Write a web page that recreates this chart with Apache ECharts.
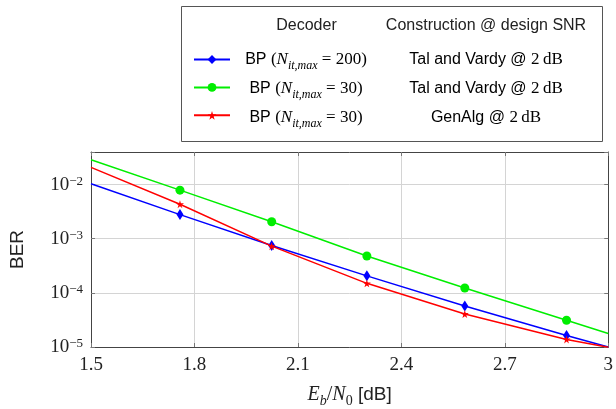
<!DOCTYPE html>
<html>
<head>
<meta charset="utf-8">
<script src="https://cdn.jsdelivr.net/npm/echarts@6/dist/echarts.min.js"></script>
<style>
  html, body { margin: 0; padding: 0; background: #fff; }
  #chart { width: 616px; height: 409px; }
</style>
</head>
<body>
<div id="chart"></div>
<script>
// Eb/N0 in dB (end points carry no marker)
var snr = [1.5, 1.758, 2.024, 2.3, 2.584, 2.879, 3.0];
var berBP200 = [1.04e-2, 2.79e-3, 7.5e-4, 2.06e-4, 5.7e-5, 1.63e-5, 1.0e-5];
var berBP30 = [2.87e-2, 7.9e-3, 2.06e-3, 4.8e-4, 1.23e-4, 3.12e-5, 1.78e-5];
var berGenAlg = [2.08e-2, 4.34e-3, 7.3e-4, 1.5e-4, 4.07e-5, 1.38e-5, 9.9e-6];
var xTicks = [1.5, 1.8, 2.1, 2.4, 2.7, 3];
var seriesNames = ['BP200', 'BP30', 'GenAlg'];
var decoderRows = [
    '{sf|BP }{rm|(}{it|N}{sub|it,max}{rm| = 200)}',
    '{sf|BP }{rm|(}{it|N}{sub|it,max}{rm| = 30)}',
    '{sf|BP }{rm|(}{it|N}{sub|it,max}{rm| = 30)}'
];
var constructionRows = [
    '{sf|Tal and Vardy @ }{rm|2\u2009dB}',
    '{sf|Tal and Vardy @ }{rm|2\u2009dB}',
    '{sf|GenAlg @ }{rm|2\u2009dB}'
];

var SANS = 'Liberation Sans';
var SERIF = 'Liberation Serif';
var starPath = 'path://M50,0 L61,35 L98,35 L68,57 L79,91 L50,70 L21,91 L32,57 L2,35 L39,35 Z';

var richText = {
    sf: { fontFamily: SANS, fontSize: 16, color: '#222', lineHeight: 18, verticalAlign: 'middle' },
    rm: { fontFamily: SERIF, fontSize: 17, color: '#222', lineHeight: 18, verticalAlign: 'middle' },
    it: { fontFamily: SERIF, fontStyle: 'italic', fontSize: 17, color: '#222', lineHeight: 18, verticalAlign: 'middle' },
    sub: { fontFamily: SERIF, fontStyle: 'italic', fontSize: 12, color: '#222', lineHeight: 12, verticalAlign: 'bottom', padding: [0, 0, -3, 0] }
};
var richName = {
    sf: { fontFamily: SANS, fontSize: 19, color: '#222', lineHeight: 20, verticalAlign: 'middle' },
    rm: { fontFamily: SERIF, fontSize: 20, color: '#222', lineHeight: 20, verticalAlign: 'middle' },
    it: { fontFamily: SERIF, fontStyle: 'italic', fontSize: 20, color: '#222', lineHeight: 20, verticalAlign: 'middle' },
    sub: { fontFamily: SERIF, fontStyle: 'italic', fontSize: 14, color: '#222', lineHeight: 14, verticalAlign: 'bottom', padding: [0, 0, -3, 0] },
    subr: { fontFamily: SERIF, fontSize: 14, color: '#222', lineHeight: 14, verticalAlign: 'bottom', padding: [0, 0, -3, 0] }
};

function makeData(ys) {
    var out = [];
    for (var i = 0; i < snr.length; i++) {
        if (i == 0 || i == snr.length - 1) {
            out.push({ value: [snr[i], ys[i]], symbol: 'none' });
        } else {
            out.push([snr[i], ys[i]]);
        }
    }
    return out;
}

function expLabel(v) {
    var e = Math.log(v) / Math.LN10;
    var r = Math.round(e);
    if (Math.abs(e - r) > 1e-6) return '';
    return '{b|10}{e|' + (r < 0 ? '\u2212' + (-r) : r) + '}';
}

var chart = echarts.init(document.getElementById('chart'));

var graphicItems = [
    {
        type: 'rect', z: 0,
        shape: { x: 181.5, y: 6.5, width: 421, height: 135 },
        style: { fill: '#fff', stroke: '#555', lineWidth: 1 }
    },
    {
        type: 'text', z: 5, x: 306.5, y: 26,
        style: { text: 'Decoder', font: '16px "Liberation Sans"', fill: '#222', align: 'center', verticalAlign: 'middle' }
    },
    {
        type: 'text', z: 5, x: 486, y: 26,
        style: { text: 'Construction @ design SNR', font: '16px "Liberation Sans"', fill: '#222', align: 'center', verticalAlign: 'middle' }
    }
];
var rowY = [60, 89, 118];
for (var r = 0; r < rowY.length; r++) {
    graphicItems.push({
        type: 'text', z: 5, x: 306, y: rowY[r],
        style: { text: decoderRows[r], rich: richText, align: 'center', verticalAlign: 'middle' }
    });
    graphicItems.push({
        type: 'text', z: 5, x: 486, y: rowY[r],
        style: { text: constructionRows[r], rich: richText, align: 'center', verticalAlign: 'middle' }
    });
}

var tickStyle = { show: true, inside: true, length: 4, lineStyle: { color: '#777' } };
var frameLine = { show: true, lineStyle: { color: '#444', width: 1 } };

var option = {
    animation: false,
    backgroundColor: '#fff',
    grid: { left: 89, right: 4, top: 152, bottom: 58, containLabel: false },
    graphic: graphicItems,
    legend: {
        orient: 'vertical',
        left: 193,
        top: 54,
        padding: 0,
        itemWidth: 36,
        itemHeight: 11,
        itemGap: 18,
        z: 10,
        data: seriesNames,
        formatter: function () { return ''; },
        selectedMode: false
    },
    xAxis: [
        {
            type: 'value', min: 1.5, max: 3, interval: 0.3,
            axisLine: frameLine, axisTick: tickStyle,
            splitLine: { show: true, lineStyle: { color: '#d4d4d4', width: 1 } },
            axisLabel: {
                margin: 9, fontFamily: SERIF, fontSize: 19, color: '#222',
                formatter: function (v) { return String(+v.toFixed(1)); }
            },
            name: '{it|E}{sub|b}{rm|/}{it|N}{subr|0}{sf| [dB]}',
            nameLocation: 'middle', nameGap: 38,
            nameTextStyle: { rich: richName }
        },
        {
            type: 'value', position: 'top', min: 1.5, max: 3, interval: 0.3,
            axisLine: frameLine, axisTick: tickStyle,
            axisLabel: { show: false }, splitLine: { show: false }
        }
    ],
    yAxis: [
        {
            type: 'log', logBase: 10, min: 1e-5, max: 0.04,
            axisLine: frameLine, axisTick: tickStyle,
            splitLine: { show: true, lineStyle: { color: '#d4d4d4', width: 1 } },
            axisLabel: {
                margin: 8,
                formatter: expLabel,
                rich: {
                    b: { fontFamily: SERIF, fontSize: 19, color: '#222', lineHeight: 20, verticalAlign: 'bottom' },
                    e: { fontFamily: SERIF, fontSize: 13, color: '#222', lineHeight: 13, verticalAlign: 'top' }
                }
            },
            name: 'BER', nameLocation: 'middle', nameGap: 64,
            nameTextStyle: { fontFamily: SANS, fontSize: 19, color: '#222' }
        },
        {
            type: 'log', logBase: 10, min: 1e-5, max: 0.04, position: 'right',
            axisLine: frameLine, axisTick: tickStyle,
            axisLabel: { show: false }, splitLine: { show: false }
        }
    ],
    series: [
        {
            name: seriesNames[0], type: 'line', data: makeData(berBP200),
            symbol: 'diamond', symbolSize: [7, 11],
            lineStyle: { color: '#0000ff', width: 1.5 }, itemStyle: { color: '#0000ff' },
            z: 3
        },
        {
            name: seriesNames[1], type: 'line', data: makeData(berBP30),
            symbol: 'circle', symbolSize: 9,
            lineStyle: { color: '#00ee00', width: 1.5 }, itemStyle: { color: '#00ee00' },
            z: 2
        },
        {
            name: seriesNames[2], type: 'line', data: makeData(berGenAlg),
            symbol: starPath, symbolSize: 8,
            lineStyle: { color: '#ff0000', width: 1.5 }, itemStyle: { color: '#ff0000' },
            z: 4
        }
    ]
};

chart.setOption(option);
</script>
</body>
</html>
